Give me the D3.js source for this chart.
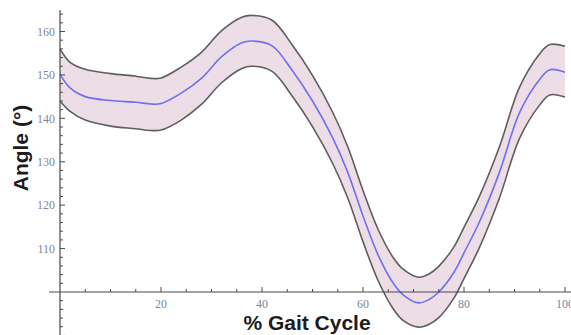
<!DOCTYPE html>
<html>
<head>
<meta charset="utf-8">
<script src="https://cdn.jsdelivr.net/npm/d3@7/dist/d3.min.js"></script>
<style>
  html, body { margin: 0; padding: 0; background: #fff; }
  svg { display: block; }
</style>
</head>
<body>
<svg id="chart" width="571" height="335"></svg>
<script>
// values, % gait cycle vs angle (deg)
const gaitPct    = [0, 2, 5, 10, 15, 18, 20, 24, 28, 32, 36, 38, 42, 46, 50, 54, 57, 60, 63, 66, 68, 71, 73, 75, 78, 80, 83, 87, 91, 95, 97, 100];
const meanAngle  = [150.2, 147, 145, 144.1, 143.7, 143.3, 143.4, 145.8, 149.2, 154.2, 157.4, 157.8, 156.7, 151, 144, 135.5, 127.5, 117.5, 108.5, 102, 99.3, 97.5, 98.2, 100, 104.5, 109, 116, 127.5, 141.3, 149, 151.2, 150.6];
const upperAngle = [156, 152.9, 151.3, 150.3, 149.7, 149.2, 149.3, 151.8, 155.2, 160.2, 163.3, 163.7, 162.6, 156.9, 149.9, 141.4, 133.4, 123.4, 114.4, 107.9, 105.2, 103.4, 104.1, 105.9, 110.4, 114.9, 121.9, 133.4, 147.2, 154.9, 157, 156.6];
const lowerAngle = [144, 141.6, 139.6, 138.2, 137.6, 137.2, 137.3, 139.6, 143.2, 148.2, 151.5, 152, 150.8, 145.1, 138.1, 129.6, 121.6, 111.6, 102.6, 96.1, 93.4, 91.9, 92.5, 94.1, 98.6, 103.1, 110.1, 121.6, 135.4, 143.1, 145.4, 144.9];

const xTickLabels = [20, 40, 60, 80, 100];
const yTickLabels = [110, 120, 130, 140, 150, 160];
const xLabel = "% Gait Cycle";
const yLabel = "Angle (\u00B0)";

const width = 571, height = 335;
const svg = d3.select("#chart");

const x = d3.scaleLinear().domain([0, 100]).range([60, 565]);
const y = d3.scaleLinear().domain([100, 160]).range([292, 31.5]);

const rows = gaitPct.map((p, i) => ({ p, m: meanAngle[i], hi: upperAngle[i], lo: lowerAngle[i] }));
const smooth = d3.curveCatmullRom.alpha(0.5);

const band = d3.area()
    .x(d => x(d.p))
    .y0(d => y(d.lo))
    .y1(d => y(d.hi))
    .curve(smooth);

const line = key => d3.line()
    .x(d => x(d.p))
    .y(d => y(d[key]))
    .curve(smooth);

// shaded band
svg.append("path")
    .datum(rows)
    .attr("d", band)
    .attr("fill", "#ecdde6");

// band edges
["hi", "lo"].forEach(k => {
    svg.append("path")
        .datum(rows)
        .attr("d", line(k))
        .attr("fill", "none")
        .attr("stroke", "#5e5e5e")
        .attr("stroke-width", 1.6);
});

// mean curve
svg.append("path")
    .datum(rows)
    .attr("d", line("m"))
    .attr("fill", "none")
    .attr("stroke", "#6f6ff2")
    .attr("stroke-width", 1.6);

// axes, crossing at (0, 100)
const axisCol = "#4a4a4a";
const x0 = x(0), y0 = y(100);

const axes = svg.append("g");
axes.append("line")
    .attr("x1", 49).attr("x2", width)
    .attr("y1", y0).attr("y2", y0)
    .attr("stroke", axisCol).attr("stroke-width", 1.2);
axes.append("line")
    .attr("x1", x0).attr("x2", x0)
    .attr("y1", 10).attr("y2", height)
    .attr("stroke", axisCol).attr("stroke-width", 1.2);

// x ticks point up
d3.range(5, 101, 5).forEach(v => {
    const major = v % 20 === 0;
    axes.append("line")
        .attr("x1", x(v)).attr("x2", x(v))
        .attr("y1", y0).attr("y2", y0 - (major ? 5 : 3))
        .attr("stroke", axisCol).attr("stroke-width", 1);
});

// y ticks point right
d3.range(90, 165, 2).filter(v => v !== 100).forEach(v => {
    const major = v % 10 === 0;
    axes.append("line")
        .attr("x1", x0).attr("x2", x0 + (major ? 5 : 3))
        .attr("y1", y(v)).attr("y2", y(v))
        .attr("stroke", axisCol).attr("stroke-width", 1);
});

const tickFont = "'Liberation Serif', 'DejaVu Serif', serif";
const tickCol = "#80869a";

svg.append("g").selectAll("text")
    .data(xTickLabels)
    .join("text")
    .attr("x", d => x(d))
    .attr("y", y0 + 16)
    .attr("text-anchor", "middle")
    .attr("font-family", tickFont)
    .attr("font-size", 12)
    .attr("fill", tickCol)
    .text(d => d);

svg.append("g").selectAll("text")
    .data(yTickLabels)
    .join("text")
    .attr("x", x0 - 5)
    .attr("y", d => y(d))
    .attr("dy", "0.35em")
    .attr("text-anchor", "end")
    .attr("font-family", tickFont)
    .attr("font-size", 12)
    .attr("fill", tickCol)
    .text(d => d);

const labelFont = "'Liberation Sans', Arial, sans-serif";

svg.append("text")
    .attr("x", 307)
    .attr("y", 330)
    .attr("text-anchor", "middle")
    .attr("font-family", labelFont)
    .attr("font-weight", "bold")
    .attr("font-size", 21)
    .attr("fill", "#1c1c1c")
    .text(xLabel);

svg.append("text")
    .attr("transform", "translate(28,148) rotate(-90)")
    .attr("text-anchor", "middle")
    .attr("font-family", labelFont)
    .attr("font-weight", "bold")
    .attr("font-size", 21)
    .attr("fill", "#1c1c1c")
    .text(yLabel);
</script>
</body>
</html>
